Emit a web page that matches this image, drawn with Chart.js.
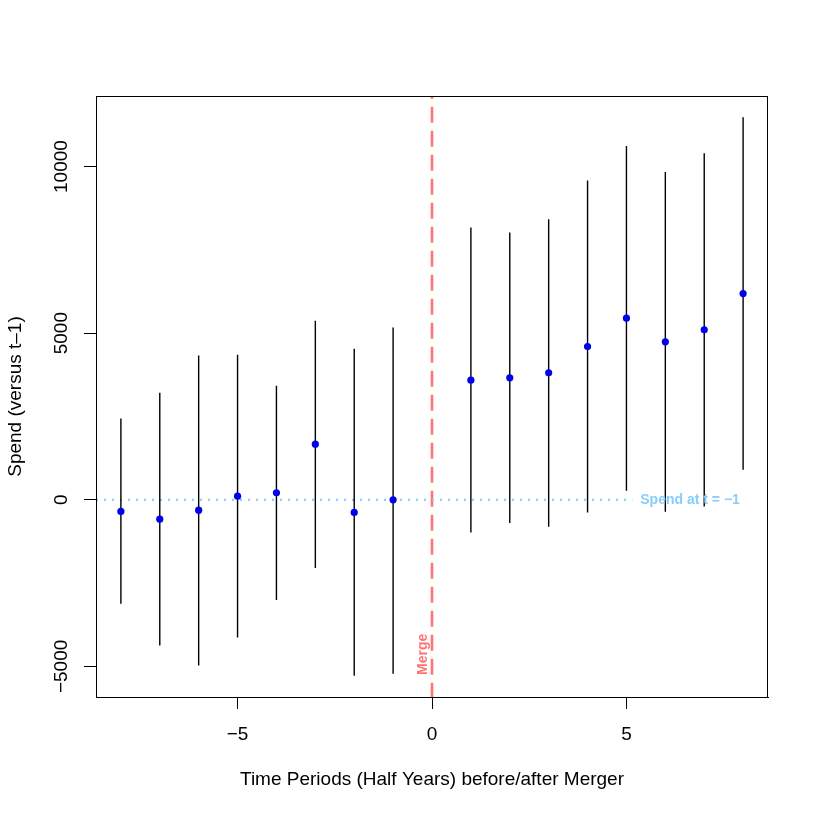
<!DOCTYPE html>
<html>
<head>
<meta charset="utf-8">
<script src="https://cdn.jsdelivr.net/npm/chart.js@4.4.1/dist/chart.umd.min.js"></script>
<style>
  html, body { margin: 0; padding: 0; background: #fff; }
  #eventChart { display: block; }
</style>
</head>
<body>
<canvas id="eventChart" width="817" height="817"></canvas>
<script>
// event-study estimates, one per half-year period
const periods = [-8, -7, -6, -5, -4, -3, -2, -1, 1, 2, 3, 4, 5, 6, 7, 8];
const estimate = [-350, -580, -310, 110, 210, 1670, -380, 0, 3590, 3660, 3810, 4600, 5450, 4740, 5100, 6190];
const upper = [2440, 3210, 4330, 4350, 3420, 5370, 4530, 5170, 8170, 8020, 8420, 9580, 10620, 9840, 10400, 11480];
const lower = [-3120, -4370, -4970, -4130, -3010, -2050, -5280, -5220, -980, -700, -810, -380, 270, -360, -200, 900];

const xTicks = [-5, 0, 5];
const yTicks = [-5000, 0, 5000, 10000];

const mergePeriod = 0;
const baselineValue = 0;
const baselineEnd = 5.15;

const xRange = [-8.64, 8.64];
const yRange = [-5918, 12118];

const FONT = "'Liberation Sans', Arial, Helvetica, sans-serif";
const AXIS_SIZE = 19;
const RED = "#ff7373";
const SKY = "#87cefa";

function fmt(v) {
    return v < 0 ? "\u2212" + Math.abs(v) : String(v);
}

document.addEventListener("DOMContentLoaded", () => {
    let canvas = document.getElementById("eventChart");
    initEventChart(canvas);
});

function initEventChart(canvas) {
    // whiskers as one line with gaps between periods
    let whiskers = [];
    periods.forEach((p, i) => {
        whiskers.push({ x: p, y: lower[i] });
        whiskers.push({ x: p, y: upper[i] });
        whiskers.push({ x: p, y: null });
    });

    let points = periods.map((p, i) => ({ x: p, y: estimate[i] }));

    let rPlot = {
        id: "rPlot",
        afterDatasetsDraw(chart) {
            let ctx = chart.ctx;
            let area = chart.chartArea;
            let xs = chart.scales.x;
            let ys = chart.scales.y;
            ctx.save();

            // box round the plot
            ctx.strokeStyle = "#000";
            ctx.lineWidth = 1;
            ctx.strokeRect(area.left + 0.5, area.top + 0.5, area.right - area.left - 1, area.bottom - area.top);

            // y tick labels, rotated like R
            ctx.fillStyle = "#000";
            ctx.font = AXIS_SIZE + "px " + FONT;
            ctx.textAlign = "center";
            ctx.textBaseline = "middle";
            yTicks.forEach(v => {
                let py = ys.getPixelForValue(v);
                ctx.save();
                ctx.translate(62, py);
                ctx.rotate(-Math.PI / 2);
                ctx.fillText(fmt(v), 0, 0);
                ctx.restore();
            });

            // baseline label
            ctx.fillStyle = SKY;
            ctx.font = "bold 14px " + FONT;
            ctx.textAlign = "left";
            ctx.fillText("Spend at t = \u22121", xs.getPixelForValue(baselineEnd) + 8, ys.getPixelForValue(baselineValue));

            // merge label
            ctx.fillStyle = RED;
            ctx.save();
            ctx.translate(xs.getPixelForValue(mergePeriod) - 9, area.bottom - 22);
            ctx.rotate(-Math.PI / 2);
            ctx.textAlign = "left";
            ctx.textBaseline = "middle";
            ctx.fillText("Merge", 0, 0);
            ctx.restore();

            ctx.restore();
        }
    };

    new Chart(canvas, {
        type: "scatter",
        data: {
            datasets: [
                {
                    type: "scatter",
                    data: points,
                    pointRadius: 3.6,
                    pointBackgroundColor: "#0000ee",
                    pointBorderWidth: 0,
                    order: 0
                },
                {
                    type: "line",
                    data: whiskers,
                    borderColor: "#000",
                    borderWidth: 1.4,
                    pointRadius: 0,
                    spanGaps: false,
                    order: 1
                },
                {
                    type: "line",
                    data: [{ x: xRange[0], y: baselineValue }, { x: baselineEnd, y: baselineValue }],
                    borderColor: SKY,
                    borderWidth: 2.2,
                    borderDash: [2, 6],
                    pointRadius: 0,
                    order: 2
                },
                {
                    type: "line",
                    data: [{ x: mergePeriod, y: yRange[1] }, { x: mergePeriod, y: yRange[0] }],
                    borderColor: RED,
                    borderWidth: 2.6,
                    borderDash: [16, 8],
                    borderDashOffset: 13.3,
                    pointRadius: 0,
                    order: 3
                }
            ]
        },
        options: {
            responsive: false,
            devicePixelRatio: 1,
            animation: false,
            layout: { padding: { left: 0, top: 96, right: 49, bottom: 0 } },
            plugins: { legend: { display: false }, tooltip: { enabled: false } },
            scales: {
                x: {
                    type: "linear",
                    min: xRange[0],
                    max: xRange[1],
                    afterBuildTicks: s => { s.ticks = xTicks.map(v => ({ value: v })); },
                    afterFit: s => { s.height = 120; },
                    grid: { drawOnChartArea: false, drawTicks: true, tickLength: 12, color: "#000" },
                    border: { display: true, color: "#000" },
                    ticks: {
                        color: "#000",
                        font: { family: FONT, size: AXIS_SIZE },
                        padding: 14,
                        maxRotation: 0,
                        callback: v => fmt(v)
                    },
                    title: {
                        display: true,
                        text: "Time Periods (Half Years) before/after Merger",
                        color: "#000",
                        font: { family: FONT, size: AXIS_SIZE },
                        padding: { top: 4, bottom: 26 }
                    }
                },
                y: {
                    type: "linear",
                    min: yRange[0],
                    max: yRange[1],
                    afterBuildTicks: s => { s.ticks = yTicks.map(v => ({ value: v })); },
                    afterFit: s => { s.width = 96; },
                    grid: { drawOnChartArea: false, drawTicks: true, tickLength: 12, color: "#000" },
                    border: { display: true, color: "#000" },
                    ticks: { display: false },
                    title: {
                        display: true,
                        text: "Spend (versus t\u20131)",
                        color: "#000",
                        font: { family: FONT, size: AXIS_SIZE },
                        padding: { top: 4.5, bottom: 0 }
                    }
                }
            }
        },
        plugins: [rPlot]
    });
}
</script>
</body>
</html>
